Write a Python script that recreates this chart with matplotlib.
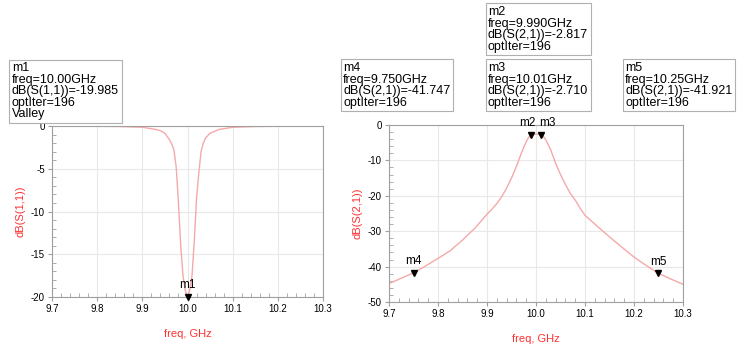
import numpy as np
import matplotlib.pyplot as plt
from matplotlib.ticker import MultipleLocator, FormatStrFormatter

# S(1,1) sweep (GHz, dB)
s11_freq = [9.70, 9.80, 9.85, 9.90, 9.93, 9.94, 9.95, 9.96, 9.965, 9.97, 9.975, 9.98,
            9.985, 9.99, 9.995, 10.00, 10.005, 10.01, 10.015, 10.02, 10.025, 10.03,
            10.035, 10.04, 10.05, 10.07, 10.10, 10.15, 10.20, 10.30]
s11_db = [-0.01, -0.03, -0.06, -0.15, -0.4, -0.55, -0.85, -1.6, -2.1, -2.8, -4.8, -9.0,
          -14.0, -17.5, -19.2, -19.985, -19.2, -17.5, -13.5, -8.5, -5.5, -3.0,
          -2.0, -1.4, -0.85, -0.4, -0.15, -0.06, -0.03, -0.01]

# S(2,1) sweep (GHz, dB)
s21_freq = [9.70, 9.725, 9.75, 9.775, 9.80, 9.825, 9.85, 9.875, 9.90, 9.91, 9.92,
            9.93, 9.94, 9.95, 9.96, 9.97, 9.98, 9.985, 9.99, 9.995, 10.00, 10.005,
            10.01, 10.015, 10.02, 10.03, 10.04, 10.05, 10.06, 10.07, 10.08, 10.09,
            10.10, 10.125, 10.15, 10.175, 10.20, 10.225, 10.25, 10.275, 10.30]
s21_db = [-44.8, -43.3, -41.747, -39.8, -37.7, -35.5, -32.5, -29.2, -25.2, -23.8, -22.2,
          -20.3, -17.8, -15.0, -11.7, -8.0, -4.7, -3.5, -2.817, -2.6, -2.55, -2.55,
          -2.710, -3.2, -4.2, -7.0, -10.8, -14.0, -16.8, -19.3, -21.2, -23.5,
          -25.5, -28.6, -31.6, -34.5, -37.3, -39.7, -41.921, -43.5, -45.0]

# markers: name, freq, value, label alignment
s11_markers = [('m1', 10.00, -19.985, 'center')]
s21_markers = [('m2', 9.990, -2.817, 'right'), ('m3', 10.01, -2.710, 'left'),
               ('m4', 9.750, -41.747, 'center'), ('m5', 10.25, -41.921, 'center')]

# marker readout boxes (figure pixels: left, top)
boxes = [
    ('m1\nfreq=10.00GHz\ndB(S(1,1))=-19.985\noptIter=196\nValley', 12, 62),
    ('m4\nfreq=9.750GHz\ndB(S(2,1))=-41.747\noptIter=196', 343, 62),
    ('m2\nfreq=9.990GHz\ndB(S(2,1))=-2.817\noptIter=196', 488, 6),
    ('m3\nfreq=10.01GHz\ndB(S(2,1))=-2.710\noptIter=196', 488, 62),
    ('m5\nfreq=10.25GHz\ndB(S(2,1))=-41.921\noptIter=196', 625, 62),
]

W, H = 747, 344
curve_color = '#f5a9a9'
label_color = '#ff3030'
label_dx = {'center': 0, 'right': 3, 'left': -1}


def style_axes(ax, ymin, ymax, ymajor, yminor, ylabel):
    ax.set_xlim(9.7, 10.3)
    ax.set_ylim(ymin, ymax)
    ax.xaxis.set_major_locator(MultipleLocator(0.1))
    ax.xaxis.set_minor_locator(MultipleLocator(0.02))
    ax.xaxis.set_major_formatter(FormatStrFormatter('%.1f'))
    ax.yaxis.set_major_locator(MultipleLocator(ymajor))
    ax.yaxis.set_minor_locator(MultipleLocator(yminor))
    ax.grid(True, which='major', color='#e8e8e8', lw=0.8)
    ax.set_axisbelow(True)
    for sp in ax.spines.values():
        sp.set_color('#a0a0a0')
        sp.set_linewidth(0.8)
    ax.tick_params(which='major', direction='out', length=3, color='#a0a0a0',
                   labelsize=7, pad=2)
    ax.tick_params(which='minor', direction='in', length=3, color='#a0a0a0')
    ax.set_xlabel('freq, GHz', color=label_color, fontsize=8, labelpad=11)
    ax.set_ylabel(ylabel, color=label_color, fontsize=8, labelpad=4)


def draw_markers(ax, markers):
    for name, f, v, ha in markers:
        ax.plot(f, v, marker='v', color='black', ms=4.5, clip_on=False, zorder=5)
        ax.annotate(name, xy=(f, v), xytext=(label_dx[ha], 4),
                    textcoords='offset points', ha=ha, va='bottom',
                    fontsize=8.5, annotation_clip=False)


def main():
    plt.rcParams['font.family'] = ['Liberation Sans', 'DejaVu Sans']
    plt.rcParams['axes.unicode_minus'] = False
    fig = plt.figure(figsize=(W / 100, H / 100), dpi=100)

    ax1 = fig.add_axes([52 / W, 1 - 297 / H, 271 / W, 171 / H])
    ax1.plot(s11_freq, s11_db, color=curve_color, lw=1)
    style_axes(ax1, -20, 0, 5, 1, 'dB(S(1,1))')
    draw_markers(ax1, s11_markers)

    ax2 = fig.add_axes([389 / W, 1 - 302 / H, 294 / W, 177 / H])
    ax2.plot(s21_freq, s21_db, color=curve_color, lw=1)
    style_axes(ax2, -50, 0, 10, 2, 'dB(S(2,1))')
    draw_markers(ax2, s21_markers)

    for txt, x, y in boxes:
        fig.text(x / W, 1 - y / H, txt, ha='left', va='top', fontsize=9,
                 linespacing=0.95,
                 bbox=dict(boxstyle='square,pad=0.2', fc='white', ec='#b0b0b0', lw=0.8))

    fig.savefig('out.png', dpi=100)


if __name__ == '__main__':
    main()
